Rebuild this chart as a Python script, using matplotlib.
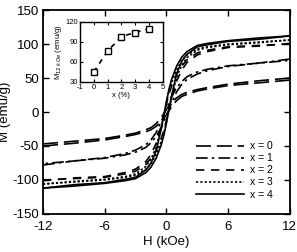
import matplotlib

matplotlib.use("Agg")
import matplotlib.pyplot as plt

plt.rcParams["font.family"] = ["Liberation Sans", "DejaVu Sans"]
plt.rcParams["axes.unicode_minus"] = False

# upper (descending) branch of each loop
field = [-12, -9, -6, -4, -3, -2, -1.5, -1, -0.5, -0.25, 0, 0.25, 0.5, 1, 1.5, 2, 3, 4, 6, 9, 12]
m_x0 = [-47, -43, -39, -34, -31, -26, -23, -17, -8, -2, 4, 9, 14, 21, 26, 29, 33, 36, 41, 46, 50]
m_x1 = [-78, -72, -67, -61, -56, -48, -41, -30, -14, -4, 5, 14, 23, 36, 45, 52, 59, 63, 68, 72, 76]
m_x2 = [-101, -97, -95, -89, -84, -73, -62, -46, -20, -4, 12, 27, 38, 56, 68, 77, 87, 91, 96, 98, 100]
m_x3 = [-106, -102, -99, -95, -91, -80, -69, -52, -22, -4, 14, 31, 43, 62, 76, 84, 93, 96, 100, 103, 106]
m_x4 = [-112, -107, -104, -99, -96, -85, -75, -57, -24, -4, 16, 34, 48, 68, 81, 89, 98, 101, 105, 109, 112]
labels = ["x = 0", "x = 1", "x = 2", "x = 3", "x = 4"]

# inset: magnetization at 12 kOe vs doping
inset_x = [0, 1, 2, 3, 4]
inset_m = [45, 76, 98, 104, 110]

styles = [
    dict(dashes=(9, 3.5)),
    dict(dashes=(7, 2.5, 1.5, 2.5)),
    dict(dashes=(5, 4)),
    dict(dashes=(1.3, 1.3)),
    dict(linestyle="-"),
]

fig = plt.figure(figsize=(2.97, 2.52), dpi=100)
ax = fig.add_axes([0.145, 0.151, 0.831, 0.809])

for m, lab, st in zip([m_x0, m_x1, m_x2, m_x3, m_x4], labels, styles):
    ax.plot(field, m, color="black", lw=1.2, label=lab, **st)
    ax.plot([-h for h in field], [-v for v in m], color="black", lw=1.2, **st)

ax.set_xlim(-12, 12)
ax.set_ylim(-150, 150)
ax.set_xticks([-12, -6, 0, 6, 12])
ax.set_yticks([-150, -100, -50, 0, 50, 100, 150])
ax.tick_params(direction="in", top=True, right=True, length=4, width=1, labelsize=9.5, pad=3)
ax.tick_params(axis="x", pad=5)
for sp in ax.spines.values():
    sp.set_linewidth(1.3)
ax.set_xlabel("H (kOe)", fontsize=9.5, labelpad=2)
ax.set_ylabel("M (emu/g)", fontsize=9.5)
ax.yaxis.set_label_coords(-0.128, 0.5)

ax.legend(loc="lower right", bbox_to_anchor=(0.96, 0.035), frameon=False, fontsize=7.5,
          handlelength=4.6, labelspacing=0.2, handletextpad=0.6, borderaxespad=0.3)

ins = fig.add_axes([0.269, 0.675, 0.279, 0.238])
ins.plot(inset_x, inset_m, color="black", lw=1.2, dashes=(3, 3), zorder=1)
ins.plot(inset_x, inset_m, linestyle="none", marker="s", ms=5, mfc="white", mec="black", mew=1, zorder=2)
ins.set_xlim(-1, 5)
ins.set_ylim(30, 120)
ins.set_xticks([-1, 0, 1, 2, 3, 4, 5])
ins.set_yticks([30, 60, 90, 120])
ins.tick_params(direction="in", top=True, right=True, length=2.5, width=0.8, labelsize=5.5, pad=1.5)
for sp in ins.spines.values():
    sp.set_linewidth(1)
ins.set_xlabel("x (%)", fontsize=5.5, labelpad=1)
ins.set_ylabel(r"M$_{12\ kOe}$ (emu/g)", fontsize=5.5, labelpad=1)

fig.savefig("out.png", dpi=100)
